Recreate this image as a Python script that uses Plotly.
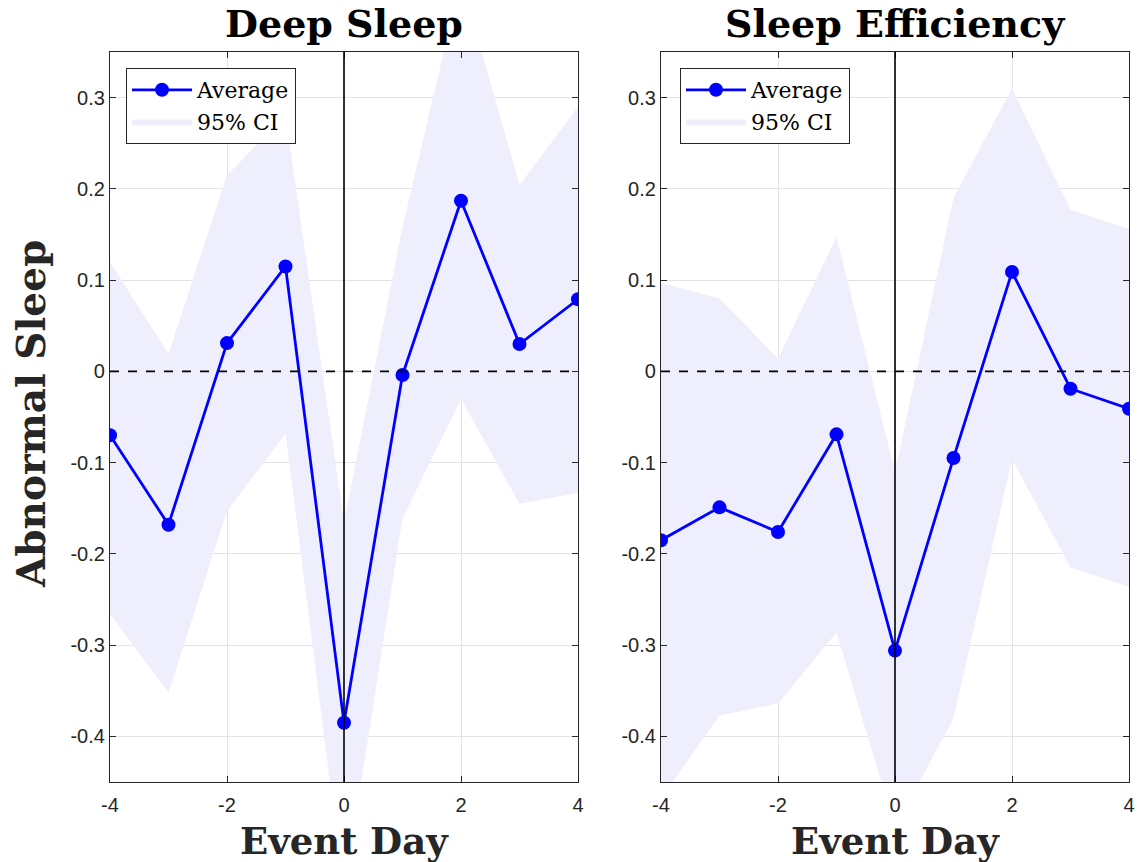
import plotly.graph_objects as go

days = [-4, -3, -2, -1, 0, 1, 2, 3, 4]

deep_avg = [-0.070, -0.168, 0.031, 0.115, -0.385, -0.004, 0.187, 0.030, 0.079]
deep_upper = [0.120, 0.019, 0.215, 0.280, -0.165, 0.158, 0.430, 0.204, 0.290]
deep_lower = [-0.266, -0.352, -0.153, -0.068, -0.570, -0.161, -0.030, -0.145, -0.133]

eff_avg = [-0.185, -0.149, -0.176, -0.069, -0.306, -0.095, 0.109, -0.019, -0.041]
eff_upper = [0.097, 0.080, 0.014, 0.147, -0.110, 0.190, 0.310, 0.177, 0.156]
eff_lower = [-0.468, -0.377, -0.364, -0.286, -0.500, -0.380, -0.096, -0.215, -0.236]

titles = ["Deep Sleep", "Sleep Efficiency"]
xticks = [-4, -2, 0, 2, 4]
xtick_text = ["-4", "-2", "0", "2", "4"]
yticks = [-0.4, -0.3, -0.2, -0.1, 0, 0.1, 0.2, 0.3]
ytick_text = ["-0.4", "-0.3", "-0.2", "-0.1", "0", "0.1", "0.2", "0.3"]

W, H = 1139, 862
BLUE = "#0000FF"
BAND = "#EEEEFC"
AX = "#262626"
SERIF = "DejaVu Serif"

fig = go.Figure()

panels = [
    (deep_avg, deep_upper, deep_lower, "x", "y", "legend"),
    (eff_avg, eff_upper, eff_lower, "x2", "y2", "legend2"),
]
for avg, up, lo, xa, ya, lg in panels:
    fig.add_trace(go.Scatter(
        x=days + days[::-1], y=up + lo[::-1], fill="toself", fillcolor=BAND,
        line=dict(width=0, color=BAND), mode="lines", name="95% CI",
        xaxis=xa, yaxis=ya, legend=lg, legendrank=2, hoverinfo="skip"))
    fig.add_trace(go.Scatter(
        x=days, y=avg, mode="lines+markers", name="Average",
        line=dict(color=BLUE, width=2.8), marker=dict(color=BLUE, size=14),
        xaxis=xa, yaxis=ya, legend=lg, legendrank=1))

dom_x = [[110 / W, 578 / W], [661 / W, 1129 / W]]
dom_y = [1 - 782 / H, 1 - 52 / H]

axis_common = dict(
    showline=True, linecolor=AX, linewidth=1.2, mirror="ticks",
    ticks="inside", ticklen=6, tickcolor=AX, tickwidth=1,
    showgrid=True, gridcolor="#e3e3e3", gridwidth=1, zeroline=False,
    automargin=False,
    tickfont=dict(family="Liberation Sans", size=20, color=AX),
)
fig.update_layout(
    xaxis=dict(domain=dom_x[0], range=[-4, 4], tickvals=xticks, ticktext=xtick_text, anchor="y",
               ticklabelstandoff=5, **axis_common),
    yaxis=dict(domain=dom_y, range=[-0.45, 0.35], tickvals=yticks, ticktext=ytick_text, anchor="x", **axis_common),
    xaxis2=dict(domain=dom_x[1], range=[-4, 4], tickvals=xticks, ticktext=xtick_text, anchor="y2",
                ticklabelstandoff=5, **axis_common),
    yaxis2=dict(domain=dom_y, range=[-0.45, 0.35], tickvals=yticks, ticktext=ytick_text, anchor="x2", **axis_common),
)

legend_common = dict(
    bgcolor="white", bordercolor=AX, borderwidth=1,
    font=dict(family=SERIF, size=22, color="black"),
    xanchor="left", yanchor="top", itemwidth=60, tracegroupgap=0,
)
fig.update_layout(
    legend=dict(x=126 / W, y=1 - 68 / H, **legend_common),
    legend2=dict(x=680 / W, y=1 - 68 / H, **legend_common),
)

shapes = [
    dict(type="line", xref="x", yref="y", x0=-4, x1=4, y0=0, y1=0,
         line=dict(color="black", width=1.6, dash="dash")),
    dict(type="line", xref="x", yref="y", x0=0, x1=0, y0=-0.45, y1=0.35,
         line=dict(color="black", width=1.6)),
    dict(type="line", xref="x2", yref="y2", x0=-4, x1=4, y0=0, y1=0,
         line=dict(color="black", width=1.6, dash="dash")),
    dict(type="line", xref="x2", yref="y2", x0=0, x1=0, y0=-0.45, y1=0.35,
         line=dict(color="black", width=1.6)),
]
fig.update_layout(shapes=shapes)

ann = []
centers = [(110 + 578) / 2 / W, (661 + 1129) / 2 / W]
for cx, t in zip(centers, titles):
    ann.append(dict(text=f"<b>{t}</b>", x=cx, y=1 - 24 / H, xref="paper", yref="paper",
                    showarrow=False, font=dict(family=SERIF, size=38, color="black"),
                    xanchor="center", yanchor="middle"))
    ann.append(dict(text="<b>Event Day</b>", x=cx, y=0, xref="paper", yref="paper",
                    showarrow=False, font=dict(family=SERIF, size=37, color=AX),
                    xanchor="center", yanchor="bottom", borderpad=0, yshift=-2))
ann.append(dict(text="<b>Abnormal Sleep</b>", x=31 / W, y=1 - 414 / H, xref="paper", yref="paper",
                showarrow=False, textangle=-90, font=dict(family=SERIF, size=39, color=AX),
                xanchor="center", yanchor="middle"))
fig.update_layout(annotations=ann)

fig.update_layout(
    width=W, height=H, margin=dict(l=0, r=0, t=0, b=0, autoexpand=False),
    paper_bgcolor="white", plot_bgcolor="white", showlegend=True,
)

fig.write_html("out.html")
